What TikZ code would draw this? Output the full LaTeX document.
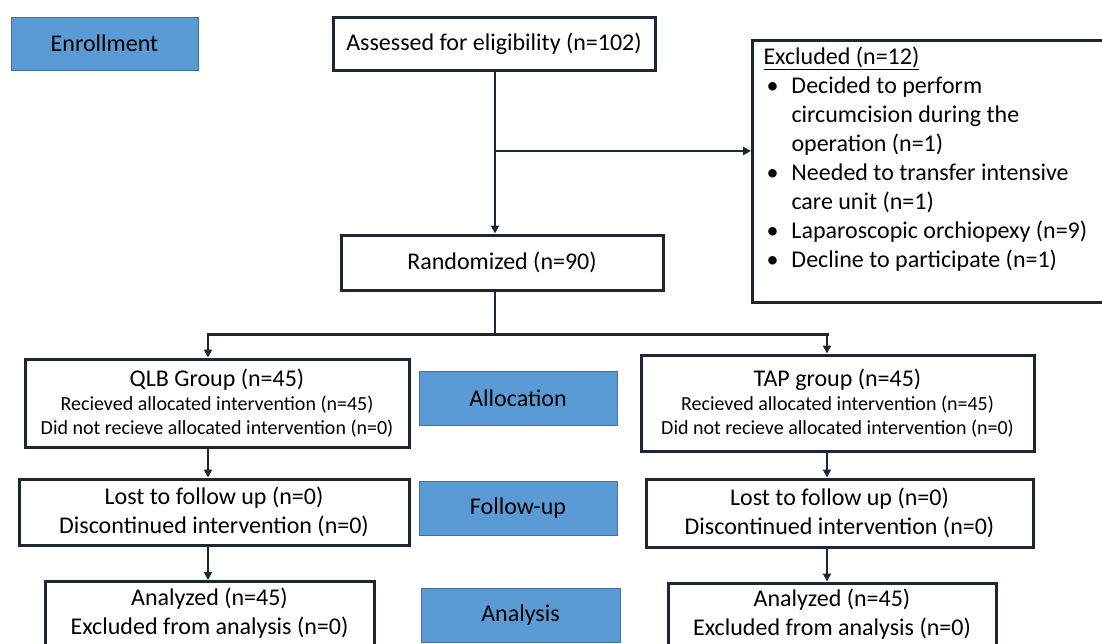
\documentclass[tikz,border=0pt]{standalone}
\usepackage{fontspec}
\setmainfont{Carlito}
\usetikzlibrary{arrows.meta}
\definecolor{bandblue}{HTML}{5B9BD5}
\definecolor{bandedge}{HTML}{41719C}
\definecolor{boxedge}{HTML}{1E2633}
\newcommand{\bul}{\makebox[25pt][l]{\textbullet}}
\newcommand{\ind}{\hspace*{25pt}}
\newcommand{\smalltxt}{\fontsize{20}{24}\selectfont}
\tikzset{
  box/.style={draw=boxedge, line width=3pt, fill=white, align=center,
    inner sep=0pt, font=\fontsize{24}{29}\selectfont},
  band/.style={draw=bandedge, line width=1pt, fill=bandblue, inner sep=0pt,
    font=\fontsize{24}{29}\selectfont},
  link/.style={draw=boxedge, line width=2pt, -{Triangle[length=8pt,width=8pt]}},
}
\begin{document}
\begin{tikzpicture}[x=1pt,y=-1pt]
      \useasboundingbox (0,0) rectangle (1102,643);
      \clip (0,0) rectangle (1102,643);
      \draw
        (104.5,43.5) node[band, minimum width=187, minimum height=53] (enroll){Enrollment}
        (494,43.5) node[box, minimum width=322, minimum height=53] (assess){Assessed for eligibility (n=102)}
        (502,262.5) node[box, minimum width=322, minimum height=55] (rand){Randomized (n=90)}
        (217,403) node[box, minimum width=384, minimum height=88, font=\fontsize{24}{24}\selectfont] (qlb){QLB Group (n=45)\\
          \smalltxt Recieved allocated intervention (n=45)\\
          \smalltxt Did not recieve allocated intervention (n=0)}
        (518,398) node[band, minimum width=198, minimum height=54] (alloc){Allocation}
        (837.5,403) node[box, minimum width=393, minimum height=96, font=\fontsize{24}{24}\selectfont] (tap){TAP group (n=45)\\
          \smalltxt Recieved allocated intervention (n=45)\\
          \smalltxt Did not recieve allocated intervention (n=0)}
        (214,512) node[box, minimum width=390, minimum height=66] (qlbfu){Lost to follow up (n=0)\\Discontinued intervention (n=0)}
        (518,508) node[band, minimum width=198, minimum height=54] (fu){Follow-up}
        (839.5,513) node[box, minimum width=387, minimum height=68] (tapfu){Lost to follow up (n=0)\\Discontinued intervention (n=0)}
        (209.5,613.5) node[box, minimum width=329, minimum height=64] (qlban){Analyzed (n=45)\\Excluded from analysis (n=0)}
        (520.5,615) node[band, minimum width=199, minimum height=54] (an){Analysis}
        (832,614) node[box, minimum width=328, minimum height=62] (tapan){Analyzed (n=45)\\Excluded from analysis (n=0)};
      \node[box, anchor=north west, align=flush left, text width=345pt, inner xsep=11pt, inner ysep=6pt]
        (excl) at (751,39) {\underline{Excluded (n=12)}\\
          \hspace*{3pt}\bul Decided to perform\\
          \ind\hspace*{3pt}circumcision during the\\
          \ind\hspace*{3pt}operation (n=1)\\
          \hspace*{3pt}\bul Needed to transfer intensive\\
          \ind\hspace*{3pt}care unit (n=1)\\
          \hspace*{3pt}\bul Laparoscopic orchiopexy (n=9)\\
          \hspace*{3pt}\bul Decline to participate (n=1)\\
          \mbox{}};
      \coordinate (mid) at (495,0);
      \coordinate (branch) at (495,151);
      \coordinate (split) at (495,334);
      \coordinate (lcol) at (208,0);
      \coordinate (rcol) at (827,0);
      \begin{scope}[link]
        \draw (assess.south -| mid) to (rand.north -| mid);
        \draw (branch) to (branch -| excl.west);
        \draw (split -| lcol) to (qlb.north -| lcol);
        \draw (split -| rcol) to (tap.north -| rcol);
        \draw (qlb.south -| lcol) to (qlbfu.north -| lcol);
        \draw (tap.south -| rcol) to (tapfu.north -| rcol);
        \draw (qlbfu.south -| lcol) to (qlban.north -| lcol);
        \draw (tapfu.south -| rcol) to (tapan.north -| rcol);
      \end{scope}
      \draw[draw=boxedge, line width=2pt] (rand.south -| mid) -- (split);
      \draw[draw=boxedge, line width=3pt, line cap=rect] (split -| lcol) -- (split -| rcol);
    \end{tikzpicture}
\end{document}
